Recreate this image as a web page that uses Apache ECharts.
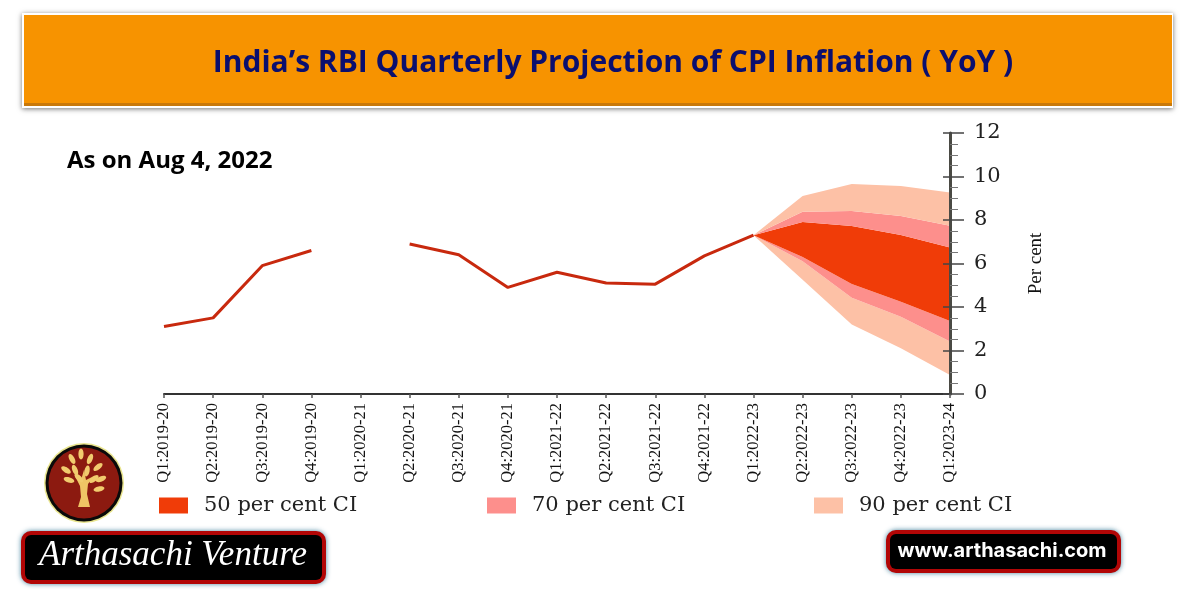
<!DOCTYPE html>
<html>
<head>
<meta charset="utf-8">
<style>
  html, body { margin: 0; padding: 0; background: #fff; }
  #chart { width: 1200px; height: 600px; }
</style>
<script src="https://cdn.jsdelivr.net/npm/echarts@6/dist/echarts.min.js"></script>
</head>
<body>
<div id="chart"></div>
<script>
var categories = ['Q1:2019-20', 'Q2:2019-20', 'Q3:2019-20', 'Q4:2019-20', 'Q1:2020-21', 'Q2:2020-21', 'Q3:2020-21', 'Q4:2020-21', 'Q1:2021-22', 'Q2:2021-22', 'Q3:2021-22', 'Q4:2021-22', 'Q1:2022-23', 'Q2:2022-23', 'Q3:2022-23', 'Q4:2022-23', 'Q1:2023-24'];
var inflation = [3.1, 3.5, 5.9, 6.6, null, 6.9, 6.4, 4.9, 5.6, 5.1, 5.05, 6.35, 7.3, null, null, null, null];

// fan chart edges, projection starts at Q1:2022-23
var low90 = [null, null, null, null, null, null, null, null, null, null, null, null, 7.3, 5.25, 3.2, 2.1, 0.87];
var low70 = [null, null, null, null, null, null, null, null, null, null, null, null, 7.3, 6.1, 4.42, 3.55, 2.41];
var low50 = [null, null, null, null, null, null, null, null, null, null, null, null, 7.3, 6.3, 5.06, 4.24, 3.36];
var high50 = [null, null, null, null, null, null, null, null, null, null, null, null, 7.3, 7.91, 7.72, 7.31, 6.74];
var high70 = [null, null, null, null, null, null, null, null, null, null, null, null, 7.3, 8.38, 8.41, 8.18, 7.74];
var high90 = [null, null, null, null, null, null, null, null, null, null, null, null, 7.3, 9.1, 9.65, 9.56, 9.27];

var yTicks = [0, 2, 4, 6, 8, 10, 12];
var bandNames = ['50 per cent CI', '70 per cent CI', '90 per cent CI'];
var bandColors = ['#f03c08', '#fd8f8c', '#fdc1a6'];

var serif = '"Liberation Serif", serif';
var wideSerif = '"DejaVu Serif", serif';

function gap(from, to) {
  return to.map(function (v, i) {
    return v == null ? null : +(v - from[i]).toFixed(2);
  });
}

function band(name, color, values) {
  return {
    name: name,
    type: 'line',
    stack: 'fan',
    data: values,
    symbol: 'none',
    color: color,
    lineStyle: { width: 0 },
    itemStyle: { color: color },
    areaStyle: { color: color, opacity: 1 },
    z: 2
  };
}

function legendAt(i, left) {
  return {
    data: [bandNames[i]],
    left: left,
    top: 490,
    icon: 'rect',
    itemWidth: 29,
    itemHeight: 16,
    selectedMode: false,
    textStyle: { fontFamily: wideSerif, fontSize: 21, color: '#222', padding: [0, 0, 0, 11] }
  };
}

// logo leaves: x, y, rotation
var leaves = [[-12, -26, 0.5], [-3, -31, 0], [6, -26, -0.4], [-18, -15, 1], [14, -18, -0.9], [-9, -15, 0.4], [3, -14, -0.2], [-15, -5, 1.3], [17, -6, -1.2], [10, -6, -0.9], [-5, -7, 0.8], [15, 4, -1.4]];

var logo = [
  { type: 'circle', shape: { cx: 84, cy: 483, r: 40 }, style: { fill: '#e9e58e' } },
  { type: 'circle', shape: { cx: 84, cy: 483, r: 38.5 }, style: { fill: '#0a0a0a' } },
  { type: 'circle', shape: { cx: 84, cy: 483, r: 35.5 }, style: { fill: '#8c1a10' } },
  { type: 'polygon', shape: { points: [[78, 507], [90, 507], [87, 494], [88, 484], [94, 476], [86, 480], [84, 470], [81, 480], [74, 474], [80, 486], [81, 497]] }, style: { fill: '#efc565' } }
];
leaves.forEach(function (l) {
  logo.push({
    type: 'ellipse',
    x: 84 + l[0],
    y: 483 + l[1] + 2,
    rotation: l[2],
    shape: { cx: 0, cy: 0, rx: 2.6, ry: 5.5 },
    style: { fill: '#f1cb6e' }
  });
});

var graphics = [
  // banner
  { type: 'rect', shape: { x: 22, y: 13, width: 1151, height: 95 }, style: { fill: '#fff', shadowBlur: 5, shadowColor: 'rgba(0,0,0,0.55)', shadowOffsetY: 1 } },
  { type: 'rect', shape: { x: 24, y: 15, width: 1148, height: 91 }, style: { fill: '#f79300' } },
  { type: 'rect', shape: { x: 24, y: 103, width: 1148, height: 3 }, style: { fill: '#c9790a' } },
  // name box
  { type: 'rect', shape: { x: 21, y: 531, width: 305, height: 53, r: 10 }, style: { fill: '#b20606', shadowBlur: 5, shadowColor: 'rgba(50,120,150,0.9)' } },
  { type: 'rect', shape: { x: 25, y: 535, width: 297, height: 45, r: 6 }, style: { fill: '#000' } },
  { type: 'text', style: { x: 173, y: 556, text: 'Arthasachi Venture', fill: '#fff', font: 'italic 35px "Liberation Serif", serif', align: 'center', verticalAlign: 'middle' } },
  // site box
  { type: 'rect', shape: { x: 886, y: 530, width: 235, height: 43, r: 10 }, style: { fill: '#b20606', shadowBlur: 5, shadowColor: 'rgba(50,120,150,0.9)' } },
  { type: 'rect', shape: { x: 890, y: 534, width: 227, height: 35, r: 6 }, style: { fill: '#000' } },
  { type: 'text', style: { x: 1002, y: 551, text: 'www.arthasachi.com', fill: '#fff', font: 'bold 20px Inter, sans-serif', align: 'center', verticalAlign: 'middle' } }
].concat(logo);

var chart = echarts.init(document.getElementById('chart'));

chart.setOption({
  animation: false,
  backgroundColor: '#fff',
  title: [
    { text: 'India\u2019s RBI Quarterly Projection of CPI Inflation ( YoY )', left: 608, top: 58, textAlign: 'center', textVerticalAlign: 'middle', textStyle: { fontFamily: '"Open Sans", sans-serif', fontWeight: 'bold', fontSize: 30, color: '#0b0f6e' } },
    { text: 'As on Aug 4, 2022', left: 62, top: 144, textStyle: { fontFamily: '"Open Sans", sans-serif', fontWeight: 'bold', fontSize: 24, color: '#000' } }
  ],
  legend: [legendAt(0, 154), legendAt(1, 482), legendAt(2, 809)],
  grid: { left: 164, right: 250, top: 133, bottom: 206 },
  xAxis: {
    type: 'category',
    data: categories,
    boundaryGap: false,
    z: 5,
    axisLine: { lineStyle: { color: '#333', width: 2 } },
    axisTick: { alignWithLabel: true, length: 4, lineStyle: { color: '#555', width: 1.5 } },
    axisLabel: { interval: 0, rotate: 90, margin: 9, fontFamily: serif, fontSize: 16.5, color: '#111' }
  },
  yAxis: [
    {
      type: 'value',
      position: 'right',
      min: yTicks[0],
      max: yTicks[yTicks.length - 1],
      interval: 2,
      z: 5,
      name: 'Per cent',
      nameLocation: 'middle',
      nameGap: 77,
      nameTextStyle: { fontFamily: serif, fontSize: 19, color: '#111' },
      splitLine: { show: false },
      axisLine: { show: true, lineStyle: { color: '#4a4a44', width: 3 } },
      axisTick: { show: true, length: 14, lineStyle: { color: '#444', width: 1.5 } },
      minorTick: { show: true, splitNumber: 4, length: 8, lineStyle: { color: '#777', width: 1 } },
      axisLabel: { margin: 24, fontFamily: wideSerif, fontSize: 21, color: '#222' }
    },
    {
      // ticks cross the axis, so a second axis draws the inner half
      type: 'value',
      position: 'right',
      min: yTicks[0],
      max: yTicks[yTicks.length - 1],
      interval: 2,
      z: 5,
      splitLine: { show: false },
      axisLine: { show: false },
      axisTick: { show: true, inside: true, length: 7, lineStyle: { color: '#444', width: 1.5 } },
      axisLabel: { show: false }
    }
  ],
  series: [
    { name: 'base', type: 'line', stack: 'fan', data: low90, symbol: 'none', lineStyle: { width: 0 }, z: 2 },
    band(bandNames[2], bandColors[2], gap(low90, low70)),
    band(bandNames[1], bandColors[1], gap(low70, low50)),
    band(bandNames[0], bandColors[0], gap(low50, high50)),
    band(bandNames[1], bandColors[1], gap(high50, high70)),
    band(bandNames[2], bandColors[2], gap(high70, high90)),
    { name: 'CPI inflation', type: 'line', data: inflation, symbol: 'none', connectNulls: false, color: '#c8290e', lineStyle: { color: '#c8290e', width: 3 }, z: 3 }
  ],
  graphic: graphics
});
</script>
</body>
</html>
